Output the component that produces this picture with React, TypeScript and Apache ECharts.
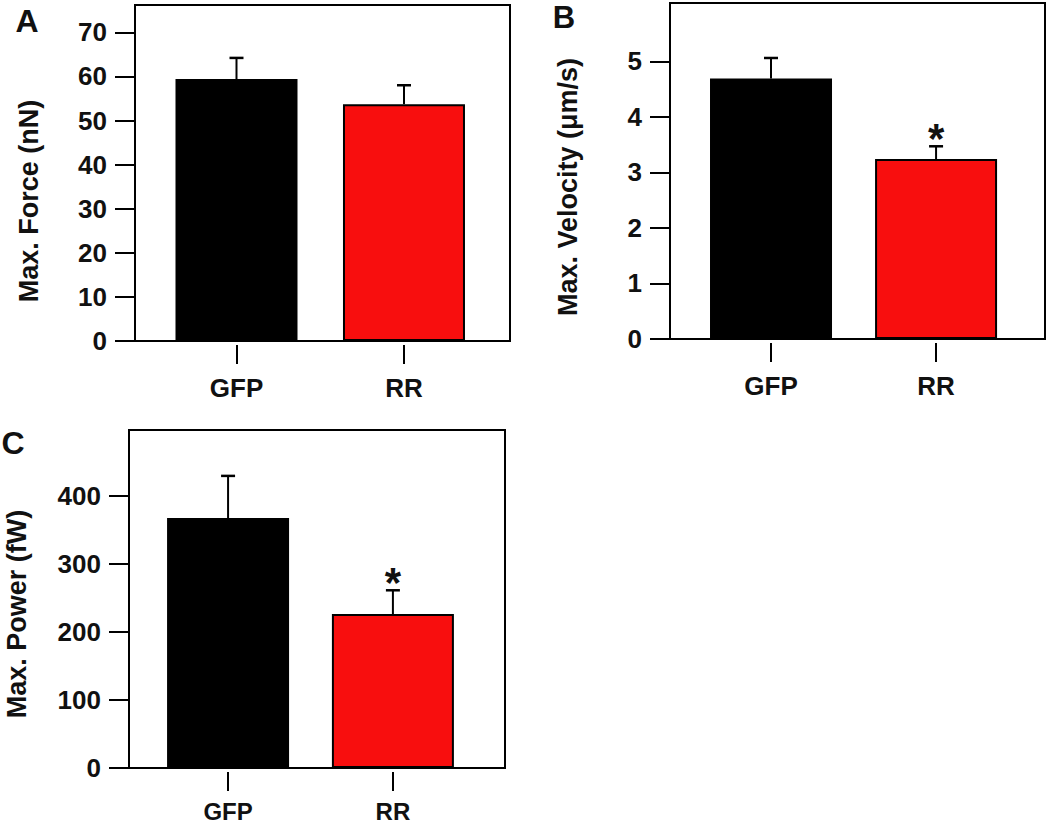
import React, { useEffect, useRef } from "react";
import * as echarts from "echarts";

const categories = ["GFP", "RR"];
const barColors = ["#000000", "#f80e0e"];

const forceMean = [59.4, 53.7];
const forceErr = [4.8, 4.3];
const forceSig = [0, 0];
const forceTicks = [0, 10, 20, 30, 40, 50, 60, 70];

const velocityMean = [4.69, 3.24];
const velocityErr = [0.37, 0.23];
const velocitySig = [0, 1];
const velocityTicks = [0, 1, 2, 3, 4, 5];

const powerMean = [367, 226];
const powerErr = [62, 35];
const powerSig = [0, 1];
const powerTicks = [0, 100, 200, 300, 400];

const FONT = "'Liberation Sans', Arial, Helvetica, sans-serif";

type Panel = {
  title: string;
  mean: number[];
  err: number[];
  sig: number[];
  ticks: number[];
  grid: { left: number; top: number; width: number; height: number };
  yMax: number;
  xMin: number;
  xMax: number;
  nameGap: number;
  namePad: number;
  catSize: number;
  catMargin: number;
};

const panels: Panel[] = [
  {
    title: "Max. Force (nN)",
    mean: forceMean,
    err: forceErr,
    sig: forceSig,
    ticks: forceTicks,
    grid: { left: 135, top: 5, width: 375, height: 336 },
    yMax: 76.2,
    xMin: -0.606,
    xMax: 1.633,
    nameGap: 93,
    namePad: 56,
    catSize: 26,
    catMargin: 30,
  },
  {
    title: "Max. Velocity (\u03bcm/s)",
    mean: velocityMean,
    err: velocityErr,
    sig: velocitySig,
    ticks: velocityTicks,
    grid: { left: 670, top: 3, width: 375, height: 336 },
    yMax: 6.05,
    xMin: -0.612,
    xMax: 1.66,
    nameGap: 89,
    namePad: 32,
    catSize: 26,
    catMargin: 30,
  },
  {
    title: "Max. Power (fW)",
    mean: powerMean,
    err: powerErr,
    sig: powerSig,
    ticks: powerTicks,
    grid: { left: 129, top: 430, width: 376, height: 338 },
    yMax: 496.4,
    xMin: -0.601,
    xMax: 1.68,
    nameGap: 99,
    namePad: 30,
    catSize: 24,
    catMargin: 27,
  },
];

export default function App() {
  const ref = useRef<HTMLDivElement>(null);

  useEffect(() => {
    if (!ref.current) return;
    const chart = echarts.init(ref.current, undefined, { renderer: "svg" });

    const grids: any[] = [];
    const xAxes: any[] = [];
    const yAxes: any[] = [];
    const series: any[] = [];

    panels.forEach((p, i) => {
      grids.push({
        ...p.grid,
        show: true,
        borderColor: "#000",
        borderWidth: 2,
        backgroundColor: "transparent",
        containLabel: false,
      });
      xAxes.push({
        type: "value",
        gridIndex: i,
        min: p.xMin,
        max: p.xMax,
        offset: 4,
        axisLine: { show: false, onZero: false },
        splitLine: { show: false },
        axisTick: {
          show: true,
          length: 19,
          customValues: categories.map((_, k) => k),
          lineStyle: { color: "#000", width: 2 },
        },
        axisLabel: {
          customValues: categories.map((_, k) => k),
          formatter: (v: number) => categories[Math.round(v)] ?? "",
          fontSize: p.catSize,
          fontWeight: "bold",
          fontFamily: FONT,
          color: "#111",
          margin: p.catMargin,
        },
      });
      yAxes.push({
        type: "value",
        gridIndex: i,
        min: 0,
        max: p.yMax,
        axisLine: { show: false, onZero: false },
        splitLine: { show: false },
        axisTick: {
          show: true,
          length: 20,
          customValues: p.ticks,
          lineStyle: { color: "#000", width: 2 },
        },
        axisLabel: {
          customValues: p.ticks,
          fontSize: 26,
          fontWeight: "bold",
          fontFamily: FONT,
          color: "#111",
          margin: 28,
        },
        name: p.title,
        nameLocation: "middle",
        nameRotate: 90,
        nameGap: p.nameGap,
        nameTextStyle: {
          fontSize: 27,
          fontWeight: "bold",
          fontFamily: FONT,
          color: "#111",
          padding: [0, p.namePad, 0, 0],
        },
      });
      series.push({
        type: "bar",
        xAxisIndex: i,
        yAxisIndex: i,
        barWidth: 122,
        data: p.mean.map((m, k) => ({
          value: [k, m],
          itemStyle: { color: barColors[k], borderColor: "#000", borderWidth: 2 },
        })),
      });
      series.push({
        type: "custom",
        xAxisIndex: i,
        yAxisIndex: i,
        data: p.mean.map((m, k) => [k, m, p.err[k], p.sig[k]]),
        renderItem: (params: any, api: any) => {
          const x = api.value(0);
          const m = api.value(1);
          const e = api.value(2);
          const s = api.value(3);
          const p0 = api.coord([x, m]);
          const p1 = api.coord([x, m + e]);
          const children: any[] = [
            {
              type: "line",
              shape: { x1: p0[0], y1: p0[1], x2: p1[0], y2: p1[1] },
              style: { stroke: "#000", lineWidth: 2 },
            },
            {
              type: "line",
              shape: { x1: p1[0] - 7, y1: p1[1], x2: p1[0] + 7, y2: p1[1] },
              style: { stroke: "#000", lineWidth: 2.5 },
            },
          ];
          if (s) {
            children.push({
              type: "text",
              style: {
                text: "*",
                x: p1[0],
                y: p1[1] - 8,
                textAlign: "center",
                textVerticalAlign: "middle",
                fontSize: 42,
                fontWeight: "bold",
                fontFamily: FONT,
                fill: "#111",
              },
            });
          }
          return { type: "group", children };
        },
      });
    });

    const letterStyle = (text: string, x: number, y: number, size: number) => ({
      type: "text",
      x,
      y,
      style: {
        text,
        fontSize: size,
        fontWeight: "bold",
        fontFamily: FONT,
        fill: "#111",
        textAlign: "center",
        textVerticalAlign: "middle",
      },
    });

    chart.setOption({
      animation: false,
      backgroundColor: "#fff",
      grid: grids,
      xAxis: xAxes,
      yAxis: yAxes,
      series,
      graphic: [
        letterStyle("A", 27, 21, 32),
        letterStyle("B", 564, 17, 31),
        letterStyle("C", 13, 443, 32),
      ],
    });

    return () => chart.dispose();
  }, []);

  return (
    <div
      ref={ref}
      style={{ position: "fixed", left: 0, top: 0, width: 1050, height: 826 }}
    />
  );
}
